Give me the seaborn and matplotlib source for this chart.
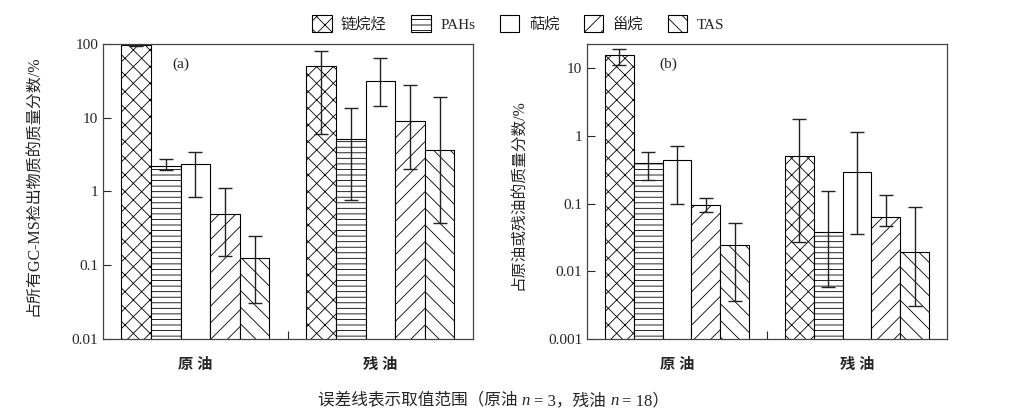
import pandas as pd
import numpy as np
import seaborn as sns
import matplotlib.pyplot as plt
from matplotlib.patches import Patch

# dados
grupos = ["原 油", "残 油"]
compostos = ["链烷烃", "PAHs", "萜烷", "甾烷", "TAS"]

# (a) fração em relação a todos os compostos detectados por GC-MS
val_a_orig = [96, 2.2, 2.35, 0.49, 0.127]
lo_a_orig = [94, 1.94, 0.83, 0.133, 0.031]
hi_a_orig = [98, 2.76, 3.4, 1.10, 0.25]
val_a_res = [50.8, 5.1, 31.5, 9.1, 3.6]
lo_a_res = [6.0, 0.77, 14.6, 2.0, 0.37]
hi_a_res = [81, 13.6, 64.6, 28, 19.3]

# (b) fração em relação ao óleo bruto ou residual
val_b_orig = [15.9, 0.40, 0.44, 0.096, 0.0246]
lo_b_orig = [11.3, 0.225, 0.098, 0.076, 0.0037]
hi_b_orig = [19.5, 0.59, 0.72, 0.123, 0.052]
val_b_res = [0.50, 0.038, 0.295, 0.064, 0.0192]
lo_b_res = [0.0275, 0.0058, 0.036, 0.047, 0.0031]
hi_b_res = [1.81, 0.156, 1.14, 0.134, 0.089]

hatches_bar = ["xx", "---", "", "//", "\\\\"]

sns.set_style("ticks")
plt.rcParams["font.family"] = ["Liberation Serif", "Noto Sans CJK SC"]
plt.rcParams["hatch.linewidth"] = 0.6
plt.rcParams["axes.unicode_minus"] = False


def monta_df(v_orig, v_res):
    linhas = []
    for c, a, b in zip(compostos, v_orig, v_res):
        linhas.append({"grupo": grupos[0], "composto": c, "valor": a})
        linhas.append({"grupo": grupos[1], "composto": c, "valor": b})
    return pd.DataFrame(linhas)


def painel(ax, v_orig, v_res, lo_orig, lo_res, hi_orig, hi_res, ylim, yticks, ylabels, ylabel, letra, fs_lab):
    df = monta_df(v_orig, v_res)
    sns.barplot(data=df, x="grupo", y="valor", hue="composto", order=grupos,
                hue_order=compostos, palette={c: "white" for c in compostos},
                edgecolor="black", linewidth=0.8, errorbar=None, legend=False,
                saturation=1, ax=ax)
    ax.set_yscale("log")
    barras = list(ax.containers)
    for i, cont in enumerate(barras):
        vals = [v_orig[i], v_res[i]]
        los = [lo_orig[i], lo_res[i]]
        his = [hi_orig[i], hi_res[i]]
        for j, bar in enumerate(cont):
            bar.set_hatch(hatches_bar[i])
            xc = bar.get_x() + bar.get_width() / 2
            ax.errorbar(xc, vals[j], yerr=[[vals[j] - los[j]], [his[j] - vals[j]]],
                        fmt="none", ecolor="#222222", elinewidth=1.0, capsize=4.8,
                        capthick=1.0, zorder=5)
    ax.set_xlim(-0.5, 1.5)
    ax.set_ylim(*ylim)
    ax.set_yticks(yticks)
    ax.set_yticklabels(ylabels, fontsize=11)
    ax.yaxis.set_minor_locator(plt.NullLocator())
    ax.tick_params(axis="y", direction="in", length=6, width=0.8)
    ax.set_xticks([0, 1])
    ax.set_xticklabels(grupos, fontsize=11, fontweight="bold")
    ax.tick_params(axis="x", which="major", length=0, pad=14)
    ax.set_xticks([0.5], minor=True)
    ax.tick_params(axis="x", which="minor", direction="in", length=6, width=0.8)
    ax.set_xlabel("")
    ax.set_ylabel(ylabel, fontsize=fs_lab)
    for s in ax.spines.values():
        s.set_visible(True)
        s.set_linewidth(0.9)
        s.set_color("#444444")
    ax.text(0.21, 0.93, letra, transform=ax.transAxes, fontsize=11, va="center", ha="center")


fig = plt.figure(figsize=(10.36, 4.18), dpi=100)
ax1 = fig.add_axes([0.0994, 0.189, 0.357, 0.706])
ax2 = fig.add_axes([0.5666, 0.189, 0.3475, 0.706])

painel(ax1, val_a_orig, val_a_res, lo_a_orig, lo_a_res, hi_a_orig, hi_a_res,
       (0.01, 100), [0.01, 0.1, 1, 10, 100], ["0.01", "0.1", "1", "10", "100"],
       "占所有GC-MS检出物质的质量分数/%", "(a)", 11.5)
painel(ax2, val_b_orig, val_b_res, lo_b_orig, lo_b_res, hi_b_orig, hi_b_res,
       (0.001, 23), [0.001, 0.01, 0.1, 1, 10], ["0.001", "0.01", "0.1", "1", "10"],
       "占原油或残油的质量分数/%", "(b)", 11.3)
ax1.yaxis.set_label_coords(-0.165, 0.52)
ax2.yaxis.set_label_coords(-0.17, 0.49)
ax2.texts[0].set_position((0.225, 0.93))

handles = [Patch(facecolor="white", edgecolor="black", linewidth=0.8, hatch=h) for h in hatches_bar]
fig.legend(handles, compostos, loc="center", bbox_to_anchor=(0.5, 0.943), ncol=5,
           frameon=False, fontsize=11, handlelength=1.3, handleheight=1.3,
           columnspacing=1.6, handletextpad=0.6)

# legenda inferior com n em itálico
t = fig.text(0.307, 0.03, "误差线表示取值范围（原油 ", fontsize=12, va="baseline")
t = plt.annotate("n", xy=(1, 0), xycoords=t, va="bottom", fontsize=12, style="italic")
t = plt.annotate(" = 3，残油 ", xy=(1, 0), xycoords=t, va="bottom", fontsize=12)
t = plt.annotate("n", xy=(1, 0), xycoords=t, va="bottom", fontsize=12, style="italic")
t = plt.annotate(" = 18）", xy=(1, 0), xycoords=t, va="bottom", fontsize=12)

fig.savefig("out.png", dpi=100, facecolor="white")
